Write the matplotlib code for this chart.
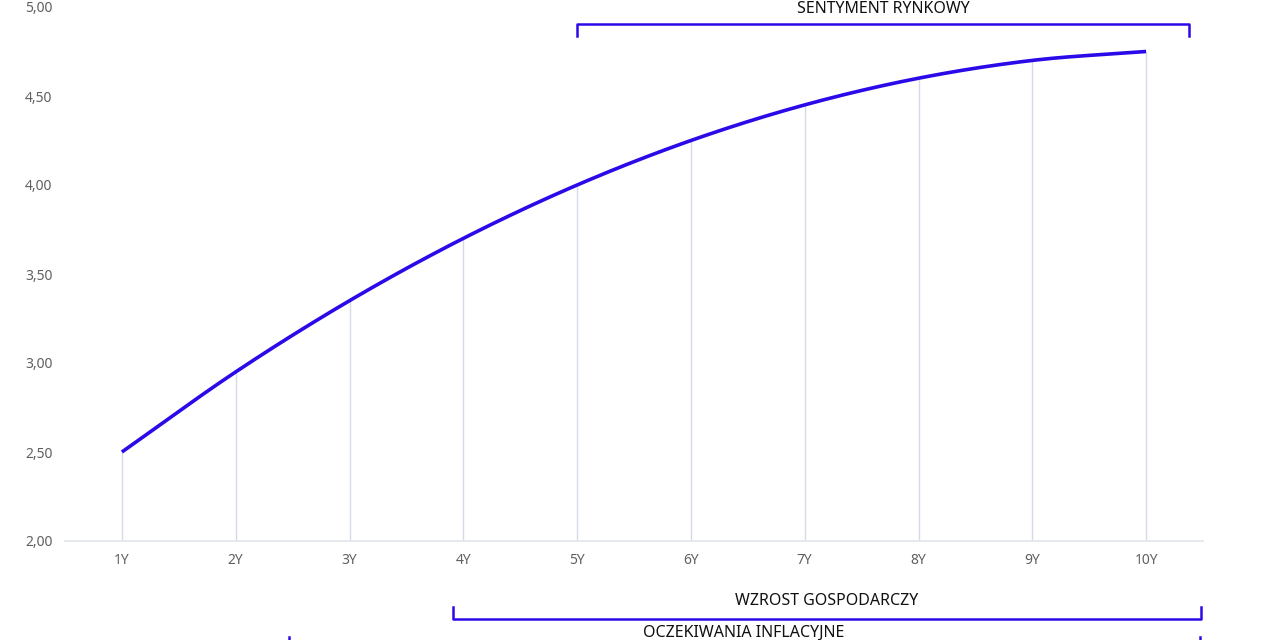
import matplotlib
matplotlib.use("Agg")
import matplotlib.pyplot as plt
import numpy as np

labels = ["1Y", "2Y", "3Y", "4Y", "5Y", "6Y", "7Y", "8Y", "9Y", "10Y"]
values = [2.50, 2.95, 3.35, 3.70, 4.00, 4.25, 4.45, 4.60, 4.70, 4.75]
yticks = [2.0, 2.5, 3.0, 3.5, 4.0, 4.5, 5.0]

blue = "#2a0ae8"
grey_text = "#606060"

plt.rcParams['font.family'] = ['Noto Sans', 'DejaVu Sans']

fig = plt.figure(figsize=(12.8, 6.4), dpi=100)
ax = fig.add_axes([65/1280, 1 - 541/640, (1203 - 65)/1280, (541 - 7)/640])

x = np.arange(1, len(values) + 1)

# smooth line through the points (cubic hermite, tangents from neighbours)
y = np.array(values)
m = np.gradient(y, x)
xs, ys = [], []
for i in range(len(x) - 1):
    t = np.linspace(0, 1, 30)
    h00 = 2*t**3 - 3*t**2 + 1
    h10 = t**3 - 2*t**2 + t
    h01 = -2*t**3 + 3*t**2
    h11 = t**3 - t**2
    xs.extend(x[i] + t)
    ys.extend(h00*y[i] + h10*m[i] + h01*y[i+1] + h11*m[i+1])

# vertical drop lines
ax.vlines(x, 2.0, values, color="#d5dbe6", linewidth=1, zorder=1)
ax.plot(xs, ys, color=blue, linewidth=2.6, solid_capstyle="butt", zorder=3)

ax.set_xlim(0.5, 10.5)
ax.set_ylim(2.0, 5.0)
ax.set_xticks(x)
ax.set_xticklabels(labels)
ax.set_yticks(yticks)
ax.set_yticklabels([f"{v:.2f}".replace(".", ",") for v in yticks])
ax.tick_params(length=0, labelsize=10, colors=grey_text)
ax.tick_params(axis="x", pad=9)
ax.tick_params(axis="y", pad=9)

for s in ["top", "right", "left"]:
    ax.spines[s].set_visible(False)
ax.spines["bottom"].set_color("#e2e5ea")
ax.spines["bottom"].set_linewidth(1.2)

# brackets
def bracket(x0, x1, ybar, ytick, text, ytext):
    ax.plot([x0, x0, x1, x1], [ytick, ybar, ybar, ytick], color=blue,
            linewidth=1.8, clip_on=False, zorder=4)
    ax.text((x0 + x1) / 2, ytext, text, ha="center", va="center",
            fontsize=11.5, color="#111111", clip_on=False)

bracket(5.0, 10.38, 4.904, 4.837, "SENTYMENT RYNKOWY", 4.99)
bracket(3.906, 10.48, 1.562, 1.629, "WZROST GOSPODARCZY", 1.663)
bracket(2.466, 10.47, 1.39, 1.461, "OCZEKIWANIA INFLACYJNE", 1.483)

fig.savefig("out.png", dpi=100)
